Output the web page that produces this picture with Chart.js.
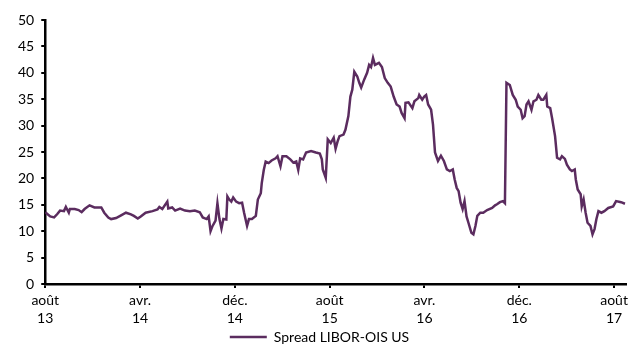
<!DOCTYPE html>
<html>
<head>
<meta charset="utf-8">
<script src="https://cdn.jsdelivr.net/npm/chart.js@4/dist/chart.umd.min.js"></script>
<style>
  html, body { margin: 0; padding: 0; background: #ffffff; overflow: hidden; }
  #wrap { width: 631px; height: 344px; }
</style>
</head>
<body>
<div id="wrap"><canvas id="c" width="631" height="344"></canvas></div>
<script>
// Months elapsed since August 2013
const months = [
  0, 0.42, 0.75, 1.00, 1.25, 1.58, 1.74, 1.99, 2.08, 2.49, 2.82, 3.07, 3.32, 3.74, 4.15, 4.73,
  4.98, 5.32, 5.56, 5.98, 6.40, 6.81, 7.23, 7.48, 7.81, 8.06, 8.47, 9.05, 9.47, 9.63, 9.88,
  10.30, 10.38, 10.71, 10.96, 11.38, 11.79, 12.21, 12.62, 13.04, 13.29, 13.62, 13.79, 13.95,
  14.12, 14.37, 14.53, 14.70, 14.87, 15.03, 15.28, 15.37, 15.53, 15.70, 15.86, 16.11, 16.36,
  16.61, 16.78, 17.03, 17.19, 17.44, 17.77, 17.94, 18.19, 18.27, 18.44, 18.60, 18.85, 19.10,
  19.44, 19.60, 19.85, 20.02, 20.35, 20.68, 20.93, 21.18, 21.35, 21.51, 21.76, 22.01, 22.43,
  22.84, 23.17, 23.34, 23.42, 23.67, 23.84, 24.09, 24.34, 24.50, 24.67, 24.83, 25.17, 25.33,
  25.58, 25.75, 25.91, 26.08, 26.33, 26.50, 26.66, 26.91, 27.16, 27.33, 27.49, 27.66, 27.82,
  28.16, 28.41, 28.65, 28.90, 29.15, 29.40, 29.65, 29.90, 30.07, 30.32, 30.40, 30.65, 30.98,
  31.15, 31.48, 31.56, 31.81, 31.98, 32.14, 32.31, 32.56, 32.72, 32.89, 33.14, 33.39, 33.64,
  33.89, 34.14, 34.39, 34.55, 34.72, 34.88, 35.05, 35.22, 35.38, 35.55, 35.71, 35.96, 36.13,
  36.30, 36.46, 36.71, 36.96, 37.29, 37.71, 37.96, 38.12, 38.37, 38.62, 38.79, 38.92, 39.20,
  39.45, 39.70, 39.87, 40.12, 40.28, 40.45, 40.61, 40.78, 41.03, 41.20, 41.45, 41.61, 41.86,
  42.03, 42.28, 42.36, 42.61, 42.77, 43.02, 43.19, 43.44, 43.60, 43.85, 44.02, 44.27, 44.44,
  44.68, 44.77, 44.93, 45.18, 45.27, 45.43, 45.60, 45.76, 46.01, 46.18, 46.35, 46.51, 46.68,
  46.93, 47.18, 47.51, 47.92, 48.17, 48.59, 48.92
];

// Spread LIBOR-OIS US, in basis points
const spread = [
  13.6, 12.8, 12.6, 13.2, 13.9, 13.8, 14.6, 13.5, 14.2, 14.2, 14.0, 13.6, 14.2, 14.9, 14.5, 14.5,
  13.5, 12.6, 12.3, 12.5, 13.0, 13.5, 13.2, 12.9, 12.4, 12.8, 13.5, 13.8, 14.1, 14.6, 14.2,
  15.6, 14.3, 14.5, 13.9, 14.3, 13.9, 13.8, 13.9, 13.6, 12.6, 12.3, 12.8, 10.0,
  11.0, 12.0, 15.3, 12.3, 10.5, 12.3, 12.2, 16.6, 16.0, 15.6, 16.4, 15.6, 15.3,
  15.4, 13.5, 11.0, 12.3, 12.3, 12.9, 16.0, 17.2, 19.1, 21.6, 23.2, 22.9, 23.4,
  23.8, 24.2, 22.3, 24.2, 24.2, 23.6, 23.0, 23.2, 21.6, 23.8, 23.6, 24.9, 25.2,
  24.9, 24.7, 23.6, 21.7, 20.1, 27.4, 26.7, 27.7, 25.6, 27.0, 28.0, 28.3, 29.2,
  31.8, 35.5, 36.8, 40.2, 39.3, 38.1, 37.2, 38.7, 40.0, 41.5, 41.1, 42.8, 41.5,
  41.9, 41.1, 39.0, 38.1, 37.4, 35.5, 34.0, 33.6, 32.4, 31.4, 34.3, 34.4, 33.3,
  34.6, 35.2, 35.8, 34.9, 35.5, 35.8, 34.0, 33.0, 30.2, 24.9, 23.3, 24.3, 23.3,
  21.7, 21.4, 21.7, 19.8, 18.2, 17.6, 15.4, 14.2, 15.7, 12.8, 11.6, 9.7, 9.4,
  11.0, 12.9, 13.5, 13.5, 14.0, 14.4, 14.9, 15.1, 15.5, 15.7, 15.3, 38.1, 37.7,
  35.8, 34.9, 33.6, 33.0, 31.4, 31.8, 34.0, 34.6, 33.0, 34.6, 34.9, 35.8, 34.9,
  34.9, 35.8, 33.6, 33.3, 31.4, 28.0, 23.9, 23.6, 24.2, 23.7, 22.6, 21.7, 21.4,
  21.7, 19.8, 17.9, 17.0, 14.7, 16.0, 13.5, 11.6, 11.0, 9.4, 10.4, 12.3, 13.8,
  13.5, 13.8, 14.4, 14.7, 15.7, 15.5, 15.2
];

// Axis labels, one every eight months
const tickMonths = [0, 8, 16, 24, 32, 40, 48];
const tickLabels = [
  ['août', '13'], ['avr.', '14'], ['déc.', '14'], ['août', '15'],
  ['avr.', '16'], ['déc.', '16'], ['août', '17']
];
const yTicks = [0, 5, 10, 15, 20, 25, 30, 35, 40, 45, 50];

const purple = '#5b2c5f';
const font = { family: "Lato, 'Open Sans', sans-serif", size: 14 };

new Chart(document.getElementById('c'), {
  type: 'line',
  data: {
    datasets: [{
      label: 'Spread LIBOR-OIS US',
      data: months.map((m, i) => ({ x: m, y: spread[i] })),
      borderColor: purple,
      backgroundColor: purple,
      borderWidth: 2.5,
      pointRadius: 0,
      tension: 0,
      fill: false
    }]
  },
  options: {
    responsive: false,
    animation: false,
    layout: { padding: { top: 20, right: 3, left: 11, bottom: -10 } },
    plugins: {
      legend: {
        position: 'bottom',
        labels: {
          color: '#000',
          font: font,
          usePointStyle: true,
          pointStyle: 'line',
          pointStyleWidth: 37,
          padding: 0
        }
      },
      tooltip: { enabled: false }
    },
    scales: {
      x: {
        type: 'linear',
        min: 0,
        max: 49,
        afterBuildTicks: (axis) => { axis.ticks = tickMonths.map(v => ({ value: v })); },
        ticks: {
          color: '#000',
          font: Object.assign({ lineHeight: 18 / 14 }, font),
          padding: 3,
          maxRotation: 0,
          autoSkip: false,
          callback: (v) => {
            const i = tickMonths.indexOf(v);
            return i >= 0 ? tickLabels[i] : '';
          }
        },
        grid: {
          display: true,
          drawOnChartArea: false,
          drawTicks: true,
          tickLength: 4,
          color: '#000',
          lineWidth: 2
        },
        border: { display: true, color: '#000', width: 2.5 }
      },
      y: {
        min: 0,
        max: 50,
        afterBuildTicks: (axis) => { axis.ticks = yTicks.map(v => ({ value: v })); },
        ticks: {
          color: '#000',
          font: font,
          padding: 7
        },
        grid: {
          display: true,
          drawOnChartArea: false,
          drawTicks: true,
          tickLength: 4,
          color: '#000',
          lineWidth: 2
        },
        border: { display: true, color: '#000', width: 2.5 }
      }
    }
  }
});
</script>
</body>
</html>
